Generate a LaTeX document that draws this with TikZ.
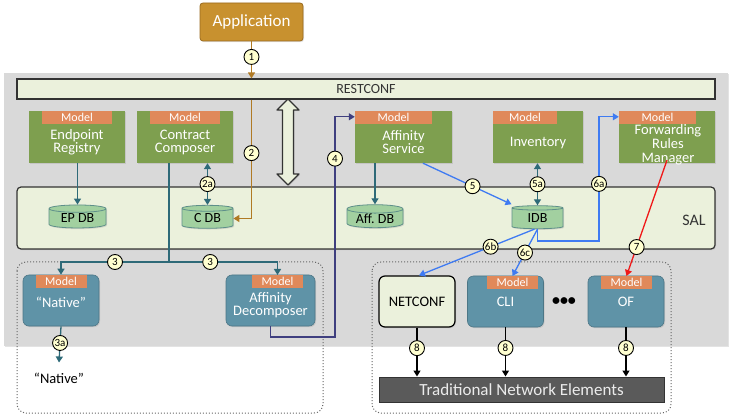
\documentclass[tikz,border=0pt]{standalone}
\usepackage{fontspec}
\setmainfont{Carlito}
\usetikzlibrary{arrows.meta,shapes.geometric,shadows,calc}
\definecolor{bggray}{HTML}{D9D9D9}
\definecolor{cream}{HTML}{EBF1DC}
\definecolor{boxgreen}{HTML}{7E9F4F}
\definecolor{steel}{HTML}{5F93A7}
\definecolor{tagorange}{HTML}{E0895A}
\definecolor{dbgreen}{HTML}{A2D0A0}
\definecolor{dbline}{HTML}{5E8F8A}
\definecolor{applfill}{HTML}{C8912F}
\definecolor{appldraw}{HTML}{9A6A1E}
\definecolor{tnefill}{HTML}{5A5A5A}
\definecolor{tealc}{HTML}{2E6A78}
\definecolor{brownc}{HTML}{B07A24}
\definecolor{navyc}{HTML}{3F3F7F}
\definecolor{bluec}{HTML}{3F7BF2}
\definecolor{redc}{HTML}{F01818}
\definecolor{numfill}{HTML}{FFFFD0}
\definecolor{frameline}{HTML}{333333}
\begin{document}
\begin{tikzpicture}[x=1pt,y=-1pt,
  >={Triangle[width=7pt,length=6pt]},
  shd/.style={drop shadow={opacity=0.22,shadow xshift=1pt,shadow yshift=-1.2pt}},
  greenbox/.style={fill=boxgreen,minimum height=52pt,inner sep=0pt,shd},
  steelbox/.style={fill=steel,draw=steel!80!black,line width=0.6pt,rounded corners=6pt,minimum width=76pt,minimum height=51pt,inner sep=0pt,shd},
  tagbox/.style={fill=tagorange,minimum height=13pt,inner sep=0pt,text=white,font=\fontsize{12}{12}\selectfont},
  boxtext/.style={text=white,align=center,font=\fontsize{14.5}{13}\selectfont,inner sep=0pt},
  dbase/.style={cylinder,shape border rotate=90,aspect=0.22,draw=dbline,line width=0.8pt,fill=dbgreen,minimum height=23pt,inner sep=0pt,font=\fontsize{14}{14}\selectfont,shd},
  num/.style={circle,draw=black,line width=0.9pt,fill=numfill,minimum size=15pt,inner sep=0pt,font=\fontsize{11}{11}\selectfont,text=black},
  conn/.style={line width=1.3pt,->},
  dconn/.style={line width=1.3pt,<->},
  frame/.style={draw=gray!80!black,line width=1pt,dash pattern=on 1pt off 2pt,rounded corners=9pt},
]
\useasboundingbox (0,0) rectangle (732,417);
% background panel
\fill[bggray,shd] (4,73) rectangle (728,346);
% application
\node[fill=applfill,draw=appldraw,line width=0.8pt,rounded corners=3pt,minimum width=103pt,minimum height=38pt,text=white,font=\fontsize{17}{17}\selectfont,shd] (appl) at (251.5,22) {Application};
% RESTCONF and SAL bars
\node[fill=cream,draw=frameline,line width=1.2pt,minimum width=698pt,minimum height=20pt,inner sep=0pt,font=\fontsize{14}{14}\selectfont,text=black!80,shd] (rest) at (366,89) {RESTCONF};
\node[fill=cream,draw=frameline,line width=1.2pt,rounded corners=4pt,minimum width=698pt,minimum height=62pt,shd] (sal) at (366,218) {};
\node[font=\fontsize{16}{16}\selectfont,text=black!80] (saltxt) at (694,220) {SAL};
% big double arrow
\path[fill=cream,draw=frameline,line width=1.2pt,line join=round,shd] (288,99) -- (299,110) -- (293.5,110) -- (293.5,174) -- (299,174) -- (288,185) -- (277,174) -- (282.5,174) -- (282.5,110) -- (277,110) -- cycle;
% dotted frames
\draw[frame] (17,262) rectangle (323,413);
\draw[frame] (372,262) rectangle (671,413);
% green model boxes
\node[greenbox,minimum width=96pt] (ep) at (77,137) {};
\node[tagbox,minimum width=70pt,anchor=north] (eptag) at (ep.north) {Model};
\node[boxtext] (eptxt) at (77,142) {Endpoint\\Registry};
\node[greenbox,minimum width=96pt] (cc) at (185,137) {};
\node[tagbox,minimum width=70pt,anchor=north] (cctag) at (cc.north) {Model};
\node[boxtext] (cctxt) at (185,142) {Contract\\Composer};
\node[greenbox,minimum width=97pt] (as) at (403.5,137) {};
\node[tagbox,minimum width=77pt,anchor=north west] (astag) at (as.north west) {Model};
\node[boxtext] (astxt) at (403.5,142) {Affinity\\Service};
\node[greenbox,minimum width=90pt] (inv) at (538,137) {};
\node[tagbox,minimum width=64pt,anchor=north west] (invtag) at (inv.north west) {Model};
\node[boxtext] (invtxt) at (538,143) {Inventory};
\node[greenbox,minimum width=96pt] (frm) at (667,137) {};
\node[tagbox,minimum width=77pt,anchor=north west] (frmtag) at (frm.north west) {Model};
\node[boxtext,font=\fontsize{14.5}{13.8}\selectfont] (frmtxt) at (668,145) {Forwarding\\Rules\\Manager};
% databases
\node[dbase,minimum width=57pt] (epdb) at (77.5,218.5) {EP DB};
\node[dbase,minimum width=51pt] (cdb) at (207.5,218.5) {C DB};
\node[dbase,minimum width=56pt] (affdb) at (375,218.5) {Aff.~DB};
\node[dbase,minimum width=51pt] (idb) at (537.5,218.5) {IDB};
% lower left boxes
\node[steelbox] (nat) at (61,300.5) {};
\node[tagbox,minimum width=51pt,anchor=north] (nattag) at (nat.north) {Model};
\node[boxtext] (nattxt) at (61,302) {“Native”};
\node[steelbox,minimum width=89pt] (ad) at (270.5,300.5) {};
\node[tagbox,minimum width=51pt,anchor=north] (adtag) at (277.5,275) {Model};
\node[boxtext] (adtxt) at (270.5,305) {Affinity\\Decomposer};
\node[font=\fontsize{14.5}{14.5}\selectfont,inner sep=0pt] (natout) at (59,378) {“Native”};
% lower right boxes
\node[fill=cream,draw=black,line width=1.2pt,rounded corners=6pt,minimum width=76pt,minimum height=51pt,inner sep=0pt,font=\fontsize{14.5}{14.5}\selectfont,shd] (netconf) at (417,301.5) {NETCONF};
\node[steelbox] (cli) at (505.5,301.5) {};
\node[tagbox,minimum width=51pt,anchor=north] (clitag) at (512.5,276) {Model};
\node[boxtext] (clitxt) at (505.5,302) {CLI};
\node[steelbox] (of) at (626,301.5) {};
\node[tagbox,minimum width=51pt,anchor=north] (oftag) at (626.5,276) {Model};
\node[boxtext] (oftxt) at (626,302) {OF};
\node[font=\fontsize{16}{16}\selectfont\bfseries] (dots) at (564,302) {•••};
\node[fill=tnefill,draw=black!80,line width=1pt,minimum width=285pt,minimum height=25pt,text=white!92!black,font=\fontsize{17}{17}\selectfont,shd] (tne) at (521.5,389.5) {Traditional Network Elements};
% helper coordinates
\coordinate (j3) at (169,262);
\coordinate (c4) at (335,337);
\coordinate (asin) at ($(as.north west)+(0,6)$);
\coordinate (c6) at (599,241);
\coordinate (frmin) at ($(frm.north west)+(0,6)$);
% connectors
\draw[conn,brownc] (appl.south) -- node[num,pos=0.42]{1} (appl.south |- rest.north);
\draw[conn,brownc] (rest.south -| appl.south) -- node[num,pos=0.45]{2} (appl.south |- cdb.east) -- (cdb.east);
\draw[conn,tealc] (epdb.north |- ep.south) -- (epdb.north);
\draw[conn,tealc] (affdb.north |- as.south) -- (affdb.north);
\draw[dconn,tealc] (cdb.north |- cc.south) -- node[num]{2a} (cdb.north);
\draw[dconn,tealc] (idb.north |- inv.south) -- node[num]{5a} (idb.north);
\draw[line width=1.3pt,tealc] (cc.south -| j3) -- (j3);
\draw[conn,tealc] (j3) -- node[num]{3} (j3 -| nat.north) -- (nat.north);
\draw[conn,tealc] (j3) -- node[num,pos=0.38]{3} (j3 -| adtag.north) -- (adtag.north);
\draw[conn,tealc] (nat.south) -- node[num,pos=0.46]{3a} ([yshift=10pt]natout.north);
\draw[conn,navyc] (ad.south) |- (c4) -- node[num,pos=0.81]{4} (c4 |- asin) -- (asin);
\draw[conn,bluec] ($(as.south)+(19.5,0)$) -- node[num,pos=0.56]{5} ($(idb.north)+(-26,-1)$);
\draw[conn,bluec] (idb.south) |- (c6) -- node[num,pos=0.46]{6a} (c6 |- frmin) -- (frmin);
\draw[conn,bluec] ($(idb.south)+(-3,0)$) -- node[num,pos=0.38]{6b} ($(netconf.north)+(2,0)$);
\draw[conn,bluec] (idb.south) -- node[num,pos=0.5]{6c} (clitag.north);
\draw[conn,redc] ($(frm.south)+(0,-3)$) -- node[num,pos=0.75]{7} (oftag.north);
\draw[conn,black] (netconf.south) -- node[num,pos=0.42]{8} (netconf.south |- tne.north);
\draw[conn,black] (cli.south) -- node[num,pos=0.42]{8} (cli.south |- tne.north);
\draw[conn,black] (of.south) -- node[num,pos=0.42]{8} (of.south |- tne.north);
\end{tikzpicture}
\end{document}
